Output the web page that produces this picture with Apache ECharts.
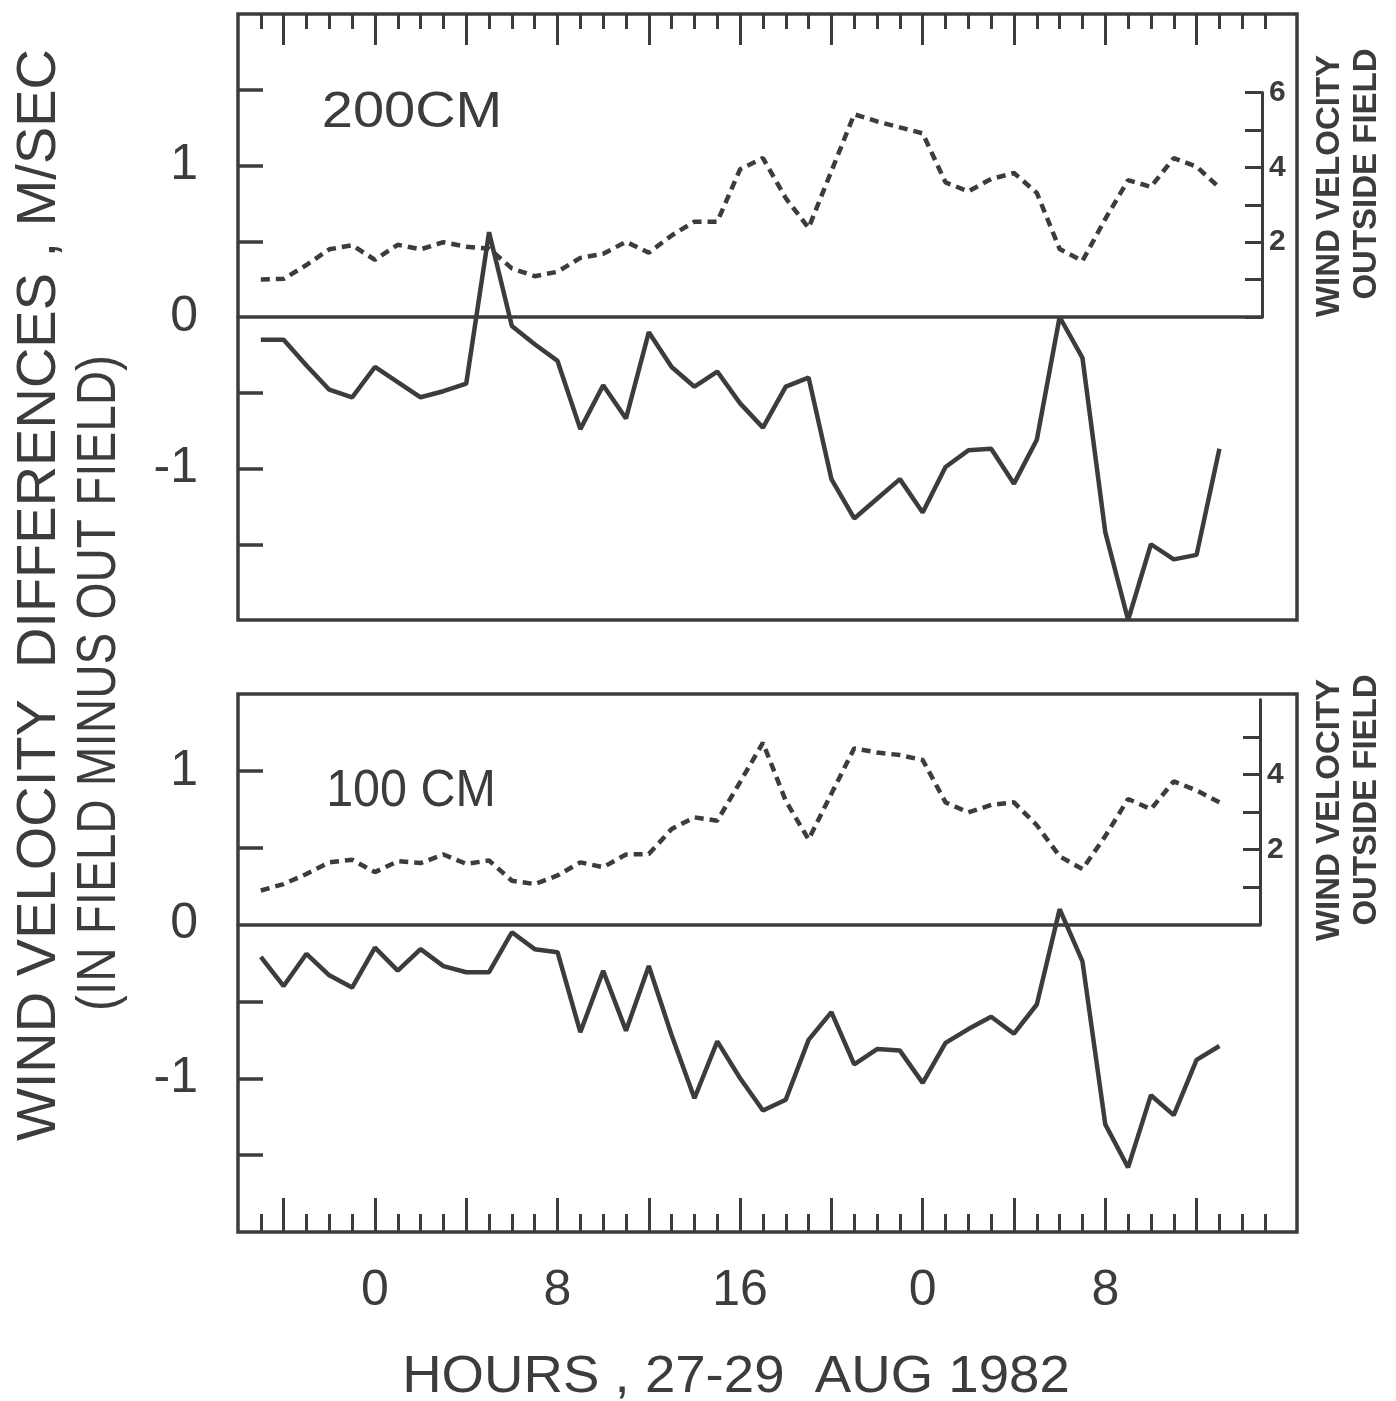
<!DOCTYPE html>
<html>
<head>
<meta charset="utf-8">
<script src="https://cdn.jsdelivr.net/npm/echarts@6/dist/echarts.min.js"></script>
<style>
html,body{margin:0;padding:0;background:#ffffff;}
#chart{width:1396px;height:1401px;}
</style>
</head>
<body>
<div id="chart"></div>
<script>
// ---- data (hours relative to midnight 27/28 Aug 1982) ----
const hours = [-5,-4,-3,-2,-1,0,1,2,3,4,5,6,7,8,9,10,11,12,13,14,15,16,17,18,19,20,21,22,23,24,25,26,27,28,29,30,31,32,33,34,35,36,37];
// 200 cm: wind velocity difference (in field minus out field), m/s
const diff200 = [-0.15,-0.15,-0.32,-0.48,-0.53,-0.33,-0.43,-0.53,-0.49,-0.44,0.56,-0.06,-0.18,-0.29,-0.74,-0.45,-0.67,-0.10,-0.33,-0.46,-0.36,-0.57,-0.73,-0.46,-0.40,-1.07,-1.33,-1.20,-1.07,-1.29,-0.99,-0.88,-0.87,-1.10,-0.81,0.00,-0.27,-1.42,-2.00,-1.50,-1.60,-1.57,-0.87];
// 200 cm: wind velocity outside field, m/s
const wind200 = [1.00,1.02,1.39,1.81,1.92,1.53,1.93,1.81,2.00,1.88,1.83,1.30,1.09,1.21,1.58,1.69,2.01,1.72,2.18,2.55,2.55,3.95,4.25,3.18,2.38,3.90,5.42,5.23,5.07,4.91,3.60,3.36,3.69,3.85,3.32,1.82,1.50,2.62,3.66,3.48,4.25,4.02,3.46];
// 100 cm
const diff100 = [-0.21,-0.40,-0.19,-0.33,-0.41,-0.15,-0.30,-0.16,-0.27,-0.31,-0.31,-0.05,-0.16,-0.18,-0.70,-0.30,-0.69,-0.27,-0.72,-1.13,-0.76,-1.00,-1.21,-1.14,-0.75,-0.57,-0.91,-0.81,-0.82,-1.03,-0.77,-0.68,-0.60,-0.71,-0.52,0.10,-0.24,-1.30,-1.58,-1.11,-1.24,-0.88,-0.79];
const wind100 = [0.91,1.08,1.35,1.66,1.73,1.40,1.69,1.64,1.87,1.62,1.71,1.17,1.08,1.31,1.66,1.53,1.87,1.88,2.55,2.86,2.77,3.80,4.85,3.30,2.27,3.49,4.70,4.59,4.52,4.39,3.26,2.99,3.19,3.26,2.65,1.82,1.48,2.36,3.35,3.08,3.82,3.58,3.26];

// ---- ticks / labels ----
const xLongTicks = [-4,0,4,8,12,16,20,24,28,32,36];
const xShortTicks = [-5,-3,-2,-1,1,2,3,5,6,7,9,10,11,13,14,15,17,18,19,21,22,23,25,26,27,29,30,31,33,34,35,37,38,39];
const xLabelValues = [0,8,16,24,32];
const diffTicksTop = [-1.5,-1,-0.5,0.5,1,1.5];
const diffTicksBottom = [-1.5,-1,-0.5,0.5,1];
const diffLabels = [-1,0,1];
const windTicksTop = [0,1,2,3,4,5,6];
const windLabelsTop = [2,4,6];
const windTicksBottom = [1,2,3,4,5];
const windLabelsBottom = [2,4];

const ink = '#3c3c3c';
const FONT = 'Liberation Sans';

const X_MIN = -6, X_MAX = 40.4;
const PLOT_LEFT = 238, PLOT_W = 1059;
const hrPerPx = (X_MAX - X_MIN) / PLOT_W;
const W_TOP = 1024, W_BOT = 1022;

function pairs(xs, ys){ return xs.map((h,i)=>[h, ys[i]]); }

function tickAxis(grid, pos, ticks, len, labels){
  return {
    type:'value', gridIndex:grid, position:pos, min:X_MIN, max:X_MAX,
    axisLine:{show:false, onZero:false},
    axisTick:{show:true, inside:true, length:len, customValues:ticks, lineStyle:{color:ink, width:3}},
    axisLabel: labels ? {show:true, customValues:labels, margin:34, fontSize:50, fontFamily:FONT, color:ink,
       formatter:(v)=>String(((v%24)+24)%24)} : {show:false},
    splitLine:{show:false}
  };
}
function zeroAxis(grid, width){
  return {
    type:'value', gridIndex:grid, position:'bottom', min:X_MIN, max:X_MIN + width*hrPerPx,
    axisLine:{show:true, onZero:false, lineStyle:{color:ink, width:3.5}},
    axisTick:{show:false}, axisLabel:{show:false}, splitLine:{show:false}
  };
}
function diffAxis(grid, min, max, ticks){
  return {
    type:'value', gridIndex:grid, position:'left', min:min, max:max,
    axisLine:{show:false, onZero:false},
    axisTick:{show:true, inside:true, length:25, customValues:ticks, lineStyle:{color:ink, width:3.5}},
    axisLabel:{show:true, customValues:diffLabels, margin:40, fontSize:50, fontFamily:FONT, color:ink,
      formatter:(v)=> v<0 ? '-' + Math.abs(v) : String(v)},
    splitLine:{show:false}
  };
}
function windAxis(grid, ticks, labels){
  return {
    type:'value', gridIndex:grid, position:'right', min:0, max:6,
    axisLine:{show:true, onZero:false, lineStyle:{color:ink, width:3}},
    axisTick:{show:true, inside:true, length:17, customValues:ticks, lineStyle:{color:ink, width:3}},
    axisLabel:{show:true, customValues:labels, margin:7, fontSize:30, fontWeight:'bold', fontFamily:FONT, color:ink},
    splitLine:{show:false}
  };
}
function txt(text, x, y, size, opts){
  opts = opts || {};
  return {
    type:'text', x:x, y:y, rotation: opts.rot || 0, scaleX: opts.sx || 1, z:100,
    style:{ text:text, fontSize:size, fontFamily:FONT, fontWeight: opts.weight || 'normal', fill:ink,
            align:'center', verticalAlign:'middle' }
  };
}
const V = Math.PI/2;

const solid = {width:4.5, color:ink, type:'solid'};
const dashed = {width:4.5, color:ink, type:[9,6]};

const option = {
  animation:false,
  backgroundColor:'#ffffff',
  grid:[
    {left:PLOT_LEFT, top:14, width:PLOT_W, height:606, show:true, borderColor:ink, borderWidth:3.5, backgroundColor:'transparent'},
    {left:PLOT_LEFT, top:317 - 6*37.4, width:W_TOP, height:6*37.4},
    {left:PLOT_LEFT, top:694, width:PLOT_W, height:538, show:true, borderColor:ink, borderWidth:3.5, backgroundColor:'transparent'},
    {left:PLOT_LEFT, top:924.6 - 6*37.5, width:W_BOT, height:6*37.5}
  ],
  xAxis:[
    tickAxis(0,'top',xShortTicks,15,null),
    tickAxis(0,'top',xLongTicks,31,null),
    zeroAxis(1, W_TOP),
    tickAxis(2,'bottom',xShortTicks,18,xLabelValues),
    tickAxis(2,'bottom',xLongTicks,34,null),
    zeroAxis(3, W_BOT)
  ],
  yAxis:[
    diffAxis(0,-2,2,diffTicksTop),
    windAxis(1,windTicksTop,windLabelsTop),
    diffAxis(2,-2,1.5,diffTicksBottom),
    windAxis(3,windTicksBottom,windLabelsBottom)
  ],
  series:[
    {type:'line', xAxisIndex:0, yAxisIndex:0, data:pairs(hours,diff200), showSymbol:false, lineStyle:solid, clip:false},
    {type:'line', xAxisIndex:2, yAxisIndex:1, data:pairs(hours,wind200), showSymbol:false, lineStyle:dashed, clip:false},
    {type:'line', xAxisIndex:3, yAxisIndex:2, data:pairs(hours,diff100), showSymbol:false, lineStyle:solid, clip:false},
    {type:'line', xAxisIndex:5, yAxisIndex:3, data:pairs(hours,wind100), showSymbol:false, lineStyle:dashed, clip:false}
  ],
  graphic:[
    txt('200CM', 412, 113, 50, {sx:1.12}),
    txt('100 CM', 411, 792, 51, {sx:0.95}),
    txt('WIND VELOCITY  DIFFERENCES , M/SEC', 40, 595, 56, {rot:V, sx:1.0}),
    txt('(IN FIELD MINUS OUT FIELD)', 100, 683, 56, {rot:V, sx:0.85}),
    txt('WIND VELOCITY', 1330, 186, 33, {rot:V, weight:'bold'}),
    txt('OUTSIDE FIELD', 1367, 174, 33, {rot:V, weight:'bold'}),
    txt('WIND VELOCITY', 1330, 810, 33, {rot:V, weight:'bold'}),
    txt('OUTSIDE FIELD', 1367, 800, 33, {rot:V, weight:'bold'}),
    txt('HOURS , 27-29  AUG 1982', 736, 1378, 52, {sx:1.05})
  ]
};

const chart = echarts.init(document.getElementById('chart'), null, {renderer:'canvas'});
chart.setOption(option);
</script>
</body>
</html>
